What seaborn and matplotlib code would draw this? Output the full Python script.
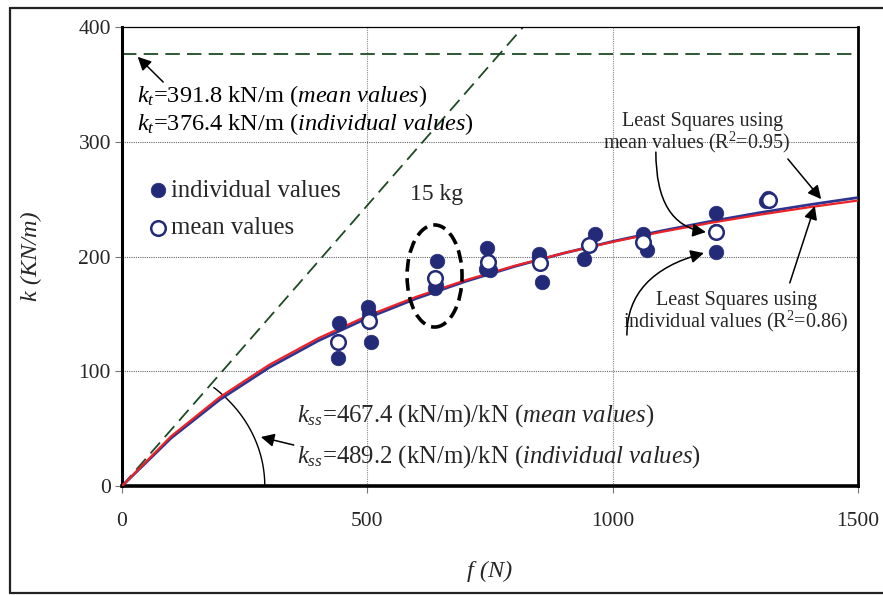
import numpy as np
import pandas as pd
import matplotlib
matplotlib.use("Agg")
import matplotlib.pyplot as plt
from matplotlib.patches import Ellipse
from matplotlib.lines import Line2D
import seaborn as sns

# ---- measured stiffness data -------------------------------------------
indiv_f = [443, 441, 502, 503, 507, 641, 640, 638, 743, 742, 750, 850, 849, 855,
           965, 942, 1061, 1070, 1210, 1210, 1210, 1313, 1316]
indiv_k = [141.8, 111.3, 156.3, 150.0, 125.8, 196.0, 175.0, 172.3, 207.0, 189.0,
           188.0, 202.0, 200.0, 178.0, 219.6, 197.6, 220.0, 205.6, 237.6, 222.0,
           204.2, 248.0, 251.0]
mean_f = [441, 504, 638, 745, 852, 952, 1062, 1210, 1319]
mean_k = [125.8, 143.8, 181.0, 195.5, 194.0, 210.0, 213.0, 221.0, 249.5]

# fitted model parameters: k = f / (1/kss + f/kt)
kt_mean, kss_mean = 391.8, 467.4      # kN/m, (kN/m)/kN
kt_ind, kss_ind = 376.4, 489.2
f_grid = np.arange(0, 1501, 100)

x_ticks = [0, 500, 1000, 1500]
y_ticks = [0, 100, 200, 300, 400]

NAVY = "#232a78"
BLUE = "#2d3591"
RED = "#ec2227"
GREEN = "#1d4a25"

sns.set_style("white")
plt.rcParams["font.family"] = ["Liberation Serif", "DejaVu Serif"]
plt.rcParams["mathtext.fontset"] = "custom"
plt.rcParams["mathtext.rm"] = "Liberation Serif"
plt.rcParams["mathtext.it"] = "Liberation Serif:italic"

fig = plt.figure(figsize=(8.83, 5.95), dpi=100)
ax = fig.add_axes([122 / 883, 1 - 486 / 595, 736 / 883, 459 / 595])

ind_df = pd.DataFrame({"f": indiv_f, "k": indiv_k})
mean_df = pd.DataFrame({"f": mean_f, "k": mean_k})


def fit(f, kt, kss):
    f = np.asarray(f, dtype=float)
    return f / (1000.0 / kss + f / kt)


fit_df = pd.DataFrame({"f": f_grid,
                       "mean": fit(f_grid, kt_mean, kss_mean),
                       "ind": fit(f_grid, kt_ind, kss_ind)})

# grid
for gx in [500, 1000]:
    ax.axvline(gx, color="#8a8a8a", lw=0.8, ls=(0, (1, 1)), zorder=0)
for gy in [100, 200, 300]:
    ax.axhline(gy, color="#6a6a6a", lw=0.8, ls=(0, (1, 1)), zorder=0)

# asymptotes (initial slope and ultimate stiffness)
ax.axhline(kt_ind, color=GREEN, lw=1.3, dashes=(8, 4), zorder=1)
ax.axline((0, 0), slope=kss_ind / 1000.0, color=GREEN, lw=1.3, dashes=(8, 4), zorder=1)

# fitted curves
sns.lineplot(data=fit_df, x="f", y="mean", color=BLUE, lw=2.0, ax=ax, zorder=3)
sns.lineplot(data=fit_df, x="f", y="ind", color=RED, lw=1.6, ax=ax, zorder=3)

# data points
sns.scatterplot(data=ind_df, x="f", y="k", color=NAVY, s=110, edgecolor=NAVY,
                linewidth=0.5, ax=ax, zorder=4, label="individual values")
sns.scatterplot(data=mean_df, x="f", y="k", facecolor="white", s=110, edgecolor=NAVY,
                linewidth=1.8, ax=ax, zorder=5, label="mean values")

ax.set_xlim(0, 1500)
ax.set_ylim(0, 400)
ax.set_xticks(x_ticks)
ax.set_yticks(y_ticks)
ax.tick_params(axis="both", which="both", direction="out", length=5, width=0.8,
               color="#777777", labelsize=15.5, bottom=True, left=True)
ax.tick_params(axis="x", pad=14)
ax.tick_params(axis="y", pad=3)
ax.set_xlabel("f (N)", fontsize=17.5, fontstyle="italic", labelpad=21)
ax.set_ylabel("k (KN/m)", fontsize=17.5, fontstyle="italic", labelpad=26)

ax.spines["left"].set_linewidth(2.2)
ax.spines["bottom"].set_linewidth(2.6)
ax.spines["right"].set_linewidth(2.0)
ax.spines["top"].set_linewidth(0.9)
for s in ax.spines.values():
    s.set_color("black")

handles, labels = ax.get_legend_handles_labels()
ax.legend(handles, labels, loc="upper left", bbox_to_anchor=(0.035, 0.668),
          frameon=False, fontsize=17.8, handlelength=0.8, handletextpad=0.15,
          labelspacing=0.62, borderaxespad=0, borderpad=0, markerscale=1.0)

# annotations
arrow = dict(arrowstyle="-|>", color="black", lw=1.1, mutation_scale=20,
             shrinkA=0, shrinkB=0)
txt = dict(fontsize=17.6, color="black")

ax.annotate("", xy=(32, 374), xytext=(84, 352), arrowprops=arrow)
ax.text(30, 340, r"$k_t$=391.8 kN/m ($mean\ values$)", va="center", ha="left", **txt)
ax.text(30, 315.5, r"$k_t$=376.4 kN/m ($individual\ values$)", va="center", ha="left", **txt)

ax.text(642, 253.6, "15 kg", ha="center", va="center", fontsize=17)
ax.add_patch(Ellipse((637, 183), 112, 89, fill=False, ec="black", lw=2.6,
                     ls=(0, (3.5, 1.8)), zorder=6))

fs_ls = 14.5
ax.text(1184, 318, "Least Squares using", ha="center", va="center", fontsize=fs_ls)
ax.text(1172, 299.8, r"mean values (R$^2$=0.95)", ha="center", va="center", fontsize=fs_ls)
ax.annotate("", xy=(1425, 250), xytext=(1357, 285), arrowprops=arrow)
ax.annotate("", xy=(1190, 221.3), xytext=(1088, 291),
            arrowprops=dict(arrow, connectionstyle="angle3,angleA=-90,angleB=-8"))

ax.text(1253, 162, "Least Squares using", ha="center", va="center", fontsize=fs_ls)
ax.text(1251, 143.8, r"individual values (R$^2$=0.86)", ha="center", va="center", fontsize=fs_ls)
ax.annotate("", xy=(1412, 244), xytext=(1361, 177), arrowprops=arrow)
ax.annotate("", xy=(1186, 203), xytext=(1029, 131.6),
            arrowprops=dict(arrow, connectionstyle="angle3,angleA=90,angleB=15"))

# angle arc for the initial stiffness
t = np.linspace(0, np.deg2rad(50), 60)
ax.plot(291 * np.cos(t), 112 * np.sin(t), color="black", lw=1.0, zorder=2)
ax.annotate("", xy=(283, 42.7), xytext=(350, 35.7), arrowprops=arrow)
ax.text(357, 61, r"$k_{ss}$=467.4 (kN/m)/kN ($mean\ values$)", va="center", ha="left", fontsize=17.8)
ax.text(357, 25.3, r"$k_{ss}$=489.2 (kN/m)/kN ($individual\ values$)", va="center", ha="left", fontsize=17.8)

# outer frame
fw = dict(color="#222222", lw=1.6, transform=fig.transFigure)
fig.add_artist(Line2D([10 / 883, 10 / 883], [1 - 8 / 595, 1 - 593 / 595], **fw))
fig.add_artist(Line2D([10 / 883, 1], [1 - 8 / 595, 1 - 8 / 595], **fw))
fig.add_artist(Line2D([10 / 883, 1], [1 - 593 / 595, 1 - 593 / 595], **fw))

fig.savefig("out.png", dpi=100)
